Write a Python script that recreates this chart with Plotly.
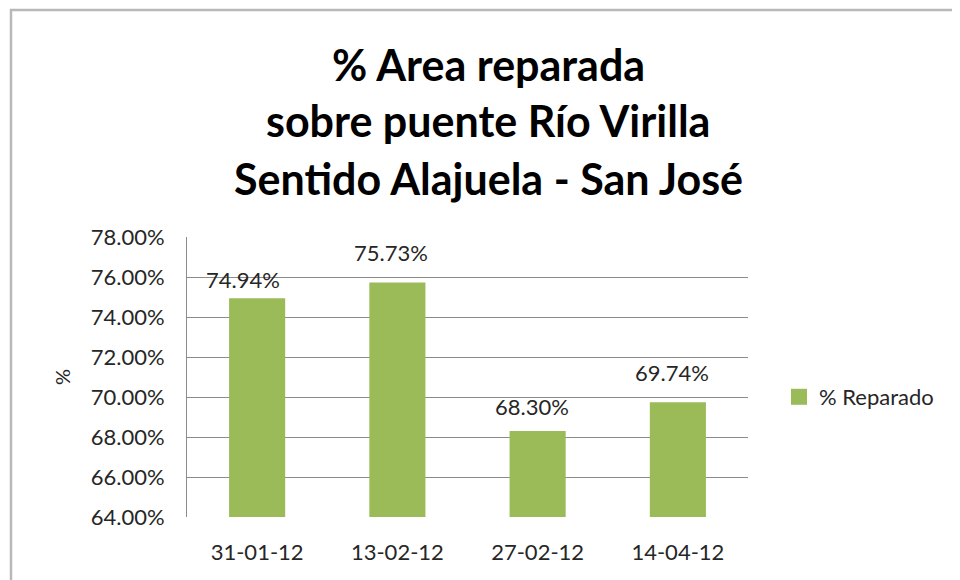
import plotly.graph_objects as go

categories = ["31-01-12", "13-02-12", "27-02-12", "14-04-12"]
values = [0.7494, 0.7573, 0.6830, 0.6974]
series_name = "% Reparado"
title_lines = ["% Area reparada", "sobre puente Río Virilla", "Sentido Alajuela - San José"]

FONT = "Lato, 'Open Sans', sans-serif"
BAR_COLOR = "#9BBB59"
TXT = "#262626"
W, H = 960, 580
OFF = 8  # page body margin offset
ML, MT = 187 - OFF, 237 - OFF
PW, PH = 561, 280
MR, MB = W - ML - PW, H - MT - PH

def px_x(px):
    return (px - OFF - ML) / PW

def px_y(py):
    return (MT + PH - (py - OFF)) / PH

# label placement style (pixel nudges, like the original layout)
label_xshift = [-14, -6, -6, -6]
label_yshift = [3, 14, 9, 14]

fig = go.Figure()
fig.add_trace(go.Bar(
    x=categories, y=values, name=series_name,
    marker=dict(color=BAR_COLOR, line=dict(width=0)),
    width=0.4, showlegend=False,
))
fig.add_trace(go.Scatter(
    x=[None], y=[None], mode="markers", name=series_name,
    marker=dict(symbol="square", size=16, color=BAR_COLOR),
    showlegend=True,
))

for c, v, dx, dy in zip(categories, values, label_xshift, label_yshift):
    fig.add_annotation(
        x=c, y=v, xref="x", yref="y", text=f"{v*100:.2f}%",
        showarrow=False, yanchor="bottom", xshift=dx, yshift=dy,
        font=dict(family=FONT, size=22, color=TXT),
    )

title_y = [64, 121, 178]
for t, ty in zip(title_lines, title_y):
    fig.add_annotation(
        x=px_x(488), y=px_y(ty), xref="paper", yref="paper", text=f"<b>{t}</b>",
        showarrow=False, xanchor="center", yanchor="middle",
        font=dict(family=FONT, size=43, color="#000000"),
    )

fig.add_shape(type="rect", xref="paper", yref="paper",
              x0=px_x(11), x1=px_x(990), y0=px_y(640), y1=px_y(10),
              line=dict(color="#b8b8b8", width=2.5), fillcolor="rgba(0,0,0,0)", layer="below")

fig.update_layout(
    width=W, height=H,
    margin=dict(l=ML, r=MR, t=MT, b=MB, pad=0),
    paper_bgcolor="white", plot_bgcolor="white",
    font=dict(family=FONT, color=TXT),
    legend=dict(x=px_x(779), y=px_y(397), xanchor="left", yanchor="middle",
                font=dict(family=FONT, size=22, color=TXT),
                itemwidth=30, bgcolor="rgba(0,0,0,0)"),
    xaxis=dict(type="category", showgrid=False, showline=False, ticks="", zeroline=False,
               tickfont=dict(family=FONT, size=22, color=TXT),
               ticklabelstandoff=20),
    yaxis=dict(range=[0.64, 0.78], dtick=0.02, tickformat=".2%",
               showgrid=True, gridcolor="#8c8c8c", gridwidth=1,
               showline=True, linecolor="#8c8c8c", linewidth=1,
               zeroline=False, ticks="",
               tickfont=dict(family=FONT, size=22, color=TXT),
               ticklabelstandoff=17,
               title=dict(text="%", font=dict(family=FONT, size=20, color=TXT), standoff=14)),
)

fig.write_html("out.html")
